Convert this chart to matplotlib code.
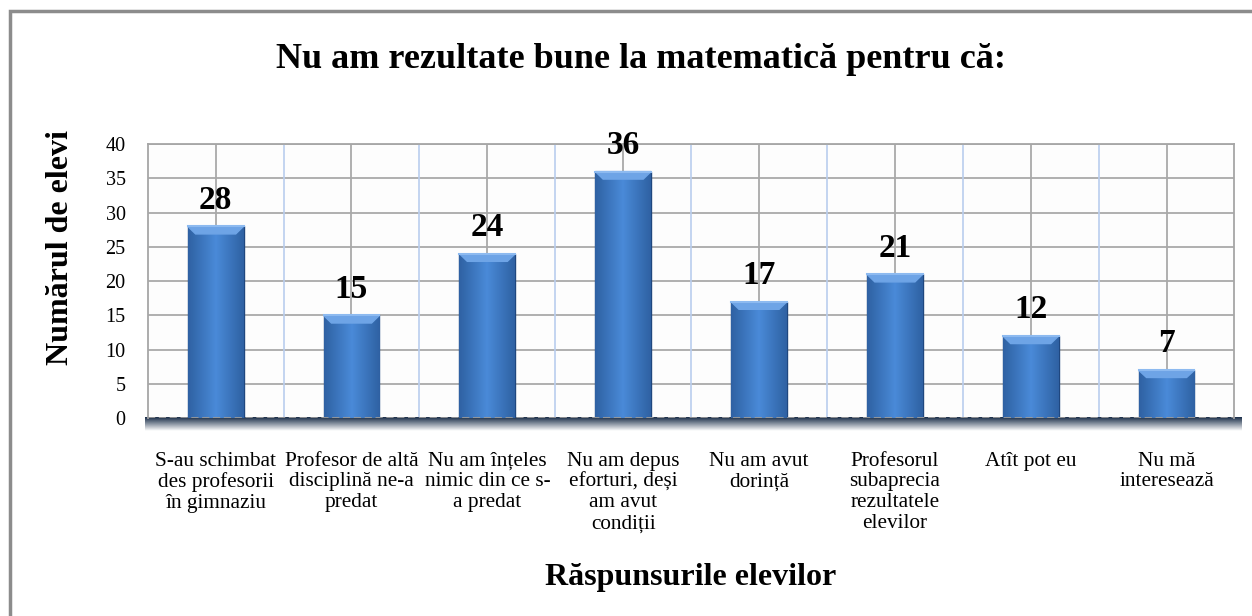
import numpy as np
import matplotlib.pyplot as plt
from matplotlib.patches import Rectangle
from matplotlib.colors import LinearSegmentedColormap

# answers given by the students and how many picked each one
categories = [
    "S-au schimbat\ndes profesorii\nîn gimnaziu",
    "Profesor de altă\ndisciplină ne-a\npredat",
    "Nu am înțeles\nnimic din ce s-\na predat",
    "Nu am depus\neforturi, deși\nam avut\ncondiții",
    "Nu am avut\ndorință",
    "Profesorul\nsubaprecia\nrezultatele\nelevilor",
    "Atît pot eu",
    "Nu mă\ninteresează",
]
counts = [28, 15, 24, 36, 17, 21, 12, 7]
yticks = [0, 5, 10, 15, 20, 25, 30, 35, 40]

plt.rcParams['font.family'] = ['Liberation Serif', 'DejaVu Serif']

fig = plt.figure(figsize=(12.52, 6.16), dpi=100)
ax = fig.add_axes([0.118, 0.321, 0.868, 0.445])

# outer frame of the chart object (runs off the right and bottom edge)
fig.patches.append(Rectangle((0.008, -0.05), 1.1, 1.032, transform=fig.transFigure,
                             fill=False, edgecolor="#8c8c8c", linewidth=2.5))

x = np.arange(len(counts))

# grid: grey through bar centres, light blue at category borders
for v in yticks[1:]:
    ax.axhline(v, color="#a9a9a9", linewidth=1.3, zorder=0)
for xi in x:
    ax.axvline(xi, color="#a9a9a9", linewidth=1.3, zorder=0)
for xb in x[1:] - 0.5:
    ax.axvline(xb, color="#b9cdee", linewidth=1.2, zorder=0)

bars = ax.bar(x, counts, width=0.41, color="#3d78c4", edgecolor="#1f477f",
              linewidth=1.0, zorder=2)

# bevel look: horizontal gradient inside each bar plus a light top cap
grad = np.linspace(0, 1, 64)
shade = 1 - 0.6 * np.abs(grad - 0.5) * 2
cmap = LinearSegmentedColormap.from_list("bev", ["#1d4780", "#4a8ad8"])
for b in bars:
    x0, w, h = b.get_x(), b.get_width(), b.get_height()
    im = ax.imshow(shade[None, :], cmap=cmap, aspect="auto", vmin=0, vmax=1,
                   extent=(x0, x0 + w, 0, h), zorder=2.5)
    im.set_clip_path(b)
    cap = min(1.1, h * 0.15)
    ax.fill([x0, x0 + w, x0 + w * 0.86, x0 + w * 0.14], [h, h, h - cap, h - cap],
            color="#6ea4e6", zorder=2.6)
    ax.plot([x0, x0 + w], [h, h], color="#8dbaf0", linewidth=1.5, zorder=2.7)
    ax.text(x0 + w / 2, h + 2.6, str(int(h)), ha="center", va="baseline",
            fontsize=24, fontweight="bold", zorder=4)

ax.set_xlim(-0.5, len(counts) - 0.5)
ax.set_ylim(0, 40)
ax.set_facecolor("#fdfdfd")

# dark floor shadow under the plot area, fading downwards
fade = np.linspace(1, 0, 32)[:, None]
shadow_cmap = LinearSegmentedColormap.from_list("sh", ["#ffffff", "#1b2f4a"])
ax.imshow(fade, cmap=shadow_cmap, aspect="auto", vmin=0, vmax=1,
          extent=(-0.52, len(counts) - 0.45, -1.9, 0), zorder=1, clip_on=False)
ax.set_xlim(-0.5, len(counts) - 0.5)
ax.set_ylim(0, 40)
ax.axhline(0, color="#9a9a9a", linewidth=1.3, linestyle=(0, (4, 2)), zorder=3)

for s in ax.spines.values():
    s.set_color("#a6a6a6")
    s.set_linewidth(1.3)
ax.spines["bottom"].set_visible(False)

ax.set_yticks(yticks)
ax.set_yticklabels([str(v) for v in yticks], fontsize=14.5)
ax.set_xticks(x)
ax.set_xticklabels(categories, fontsize=15.3, linespacing=1.13)
ax.tick_params(axis="both", length=0)
ax.tick_params(axis="y", pad=16)
ax.tick_params(axis="x", pad=24)

fig.text(0.512, 0.903, "Nu am rezultate bune la matematică pentru că:",
         ha="center", va="center", fontsize=26, fontweight="bold")
fig.text(0.048, 0.599, "Numărul de elevi", rotation=90, ha="center", va="center",
         fontsize=23, fontweight="bold")
fig.text(0.552, 0.062, "Răspunsurile elevilor", ha="center", va="center",
         fontsize=23, fontweight="bold")

fig.savefig("out.png", dpi=100)
